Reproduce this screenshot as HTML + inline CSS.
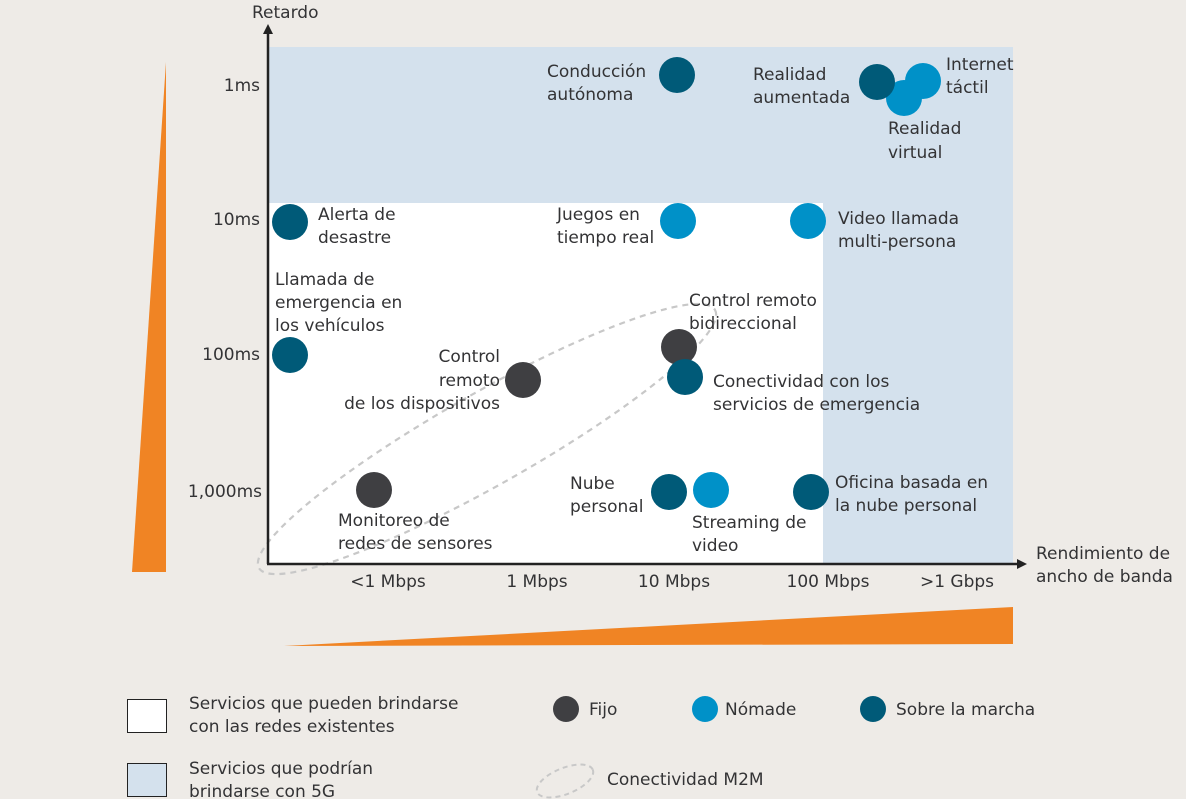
<!DOCTYPE html>
<html><head><meta charset="utf-8"><style>
html,body{margin:0;padding:0;background:#eeebe7;}
svg{display:block;}
text{font-family:"DejaVu Sans","Liberation Sans",sans-serif;font-size:17px;fill:#333335;}
</style></head><body>
<svg width="1186" height="799" viewBox="0 0 1186 799" xmlns="http://www.w3.org/2000/svg">
<rect width="1186" height="799" fill="#eeebe7"/>
<rect x="268" y="47" width="745" height="517" fill="#d4e1ed"/>
<rect x="268" y="203" width="555" height="361" fill="#ffffff"/>
<polygon points="166,62 166,572 132,572" fill="#f08424"/>
<polygon points="284,646 1013,607 1013,644" fill="#f08424"/>
<ellipse cx="487" cy="439" rx="262" ry="46" transform="rotate(-29.5 487 439)" fill="none" stroke="#c8c8c8" stroke-width="2.2" stroke-dasharray="6,5"/>
<line x1="268" y1="30" x2="268" y2="564" stroke="#222" stroke-width="2.5"/>
<polygon points="268,24 263,34 273,34" fill="#222"/>
<line x1="267" y1="564" x2="1020" y2="564" stroke="#222" stroke-width="2.5"/>
<polygon points="1027,564 1017,559 1017,569" fill="#222"/>
<text x="252" y="18">Retardo</text>
<text x="1036" y="559">Rendimiento de</text>
<text x="1036" y="582">ancho de banda</text>
<text x="260" y="91" text-anchor="end">1ms</text>
<text x="260" y="225" text-anchor="end">10ms</text>
<text x="260" y="360" text-anchor="end">100ms</text>
<text x="262" y="497" text-anchor="end">1,000ms</text>
<text x="388" y="587" text-anchor="middle">&lt;1 Mbps</text>
<text x="537" y="587" text-anchor="middle">1 Mbps</text>
<text x="674" y="587" text-anchor="middle">10 Mbps</text>
<text x="828" y="587" text-anchor="middle">100 Mbps</text>
<text x="957" y="587" text-anchor="middle">&gt;1 Gbps</text>
<g>
<circle cx="677" cy="75" r="18" fill="#005a78"/>
<circle cx="904" cy="98" r="18" fill="#0091c8"/>
<circle cx="923" cy="81" r="18" fill="#0091c8"/>
<circle cx="877" cy="82" r="18" fill="#005a78"/>
<circle cx="290" cy="222" r="18" fill="#005a78"/>
<circle cx="678" cy="221" r="18" fill="#0091c8"/>
<circle cx="808" cy="221" r="18" fill="#0091c8"/>
<circle cx="290" cy="355" r="18" fill="#005a78"/>
<circle cx="523" cy="380" r="18" fill="#3f3f42"/>
<circle cx="679" cy="347" r="18" fill="#3f3f42"/>
<circle cx="685" cy="377" r="18" fill="#005a78"/>
<circle cx="374" cy="490" r="18" fill="#3f3f42"/>
<circle cx="669" cy="492" r="18" fill="#005a78"/>
<circle cx="711" cy="490" r="18" fill="#0091c8"/>
<circle cx="811" cy="492" r="18" fill="#005a78"/>
</g>
<text x="547" y="77">Conducción</text><text x="547" y="100">autónoma</text>
<text x="753" y="80">Realidad</text><text x="753" y="103">aumentada</text>
<text x="946" y="70">Internet</text><text x="946" y="93">táctil</text>
<text x="888" y="134">Realidad</text><text x="888" y="158">virtual</text>
<text x="318" y="220">Alerta de</text><text x="318" y="243">desastre</text>
<text x="557" y="220">Juegos en</text><text x="557" y="243">tiempo real</text>
<text x="838" y="224">Video llamada</text><text x="838" y="247">multi-persona</text>
<text x="275" y="285">Llamada de</text><text x="275" y="308">emergencia en</text><text x="275" y="331">los vehículos</text>
<text x="689" y="306">Control remoto</text><text x="689" y="329">bidireccional</text>
<text x="500" y="362" text-anchor="end">Control</text><text x="500" y="386" text-anchor="end">remoto</text><text x="500" y="409" text-anchor="end">de los dispositivos</text>
<text x="713" y="387">Conectividad con los</text><text x="713" y="410">servicios de emergencia</text>
<text x="570" y="489">Nube</text><text x="570" y="512">personal</text>
<text x="835" y="488">Oficina basada en</text><text x="835" y="511">la nube personal</text>
<text x="338" y="526">Monitoreo de</text><text x="338" y="549">redes de sensores</text>
<text x="692" y="528">Streaming de</text><text x="692" y="551">video</text>
<rect x="127.5" y="699.5" width="39" height="33" fill="#fff" stroke="#222" stroke-width="1"/>
<rect x="127.5" y="763.5" width="39" height="33" fill="#d4e1ed" stroke="#222" stroke-width="1"/>
<text x="189" y="709">Servicios que pueden brindarse</text><text x="189" y="732">con las redes existentes</text>
<text x="189" y="774">Servicios que podrían</text><text x="189" y="797">brindarse con 5G</text>
<circle cx="566" cy="709" r="13" fill="#3f3f42"/><text x="589" y="715">Fijo</text>
<circle cx="705" cy="709" r="13" fill="#0091c8"/><text x="725" y="715">Nómade</text>
<circle cx="873" cy="709" r="13" fill="#005a78"/><text x="896" y="715">Sobre la marcha</text>
<ellipse cx="565" cy="781" rx="30" ry="13" transform="rotate(-22 565 781)" fill="none" stroke="#c8c8c8" stroke-width="2" stroke-dasharray="5,4"/>
<text x="607" y="785">Conectividad M2M</text>
</svg>
</body></html>
